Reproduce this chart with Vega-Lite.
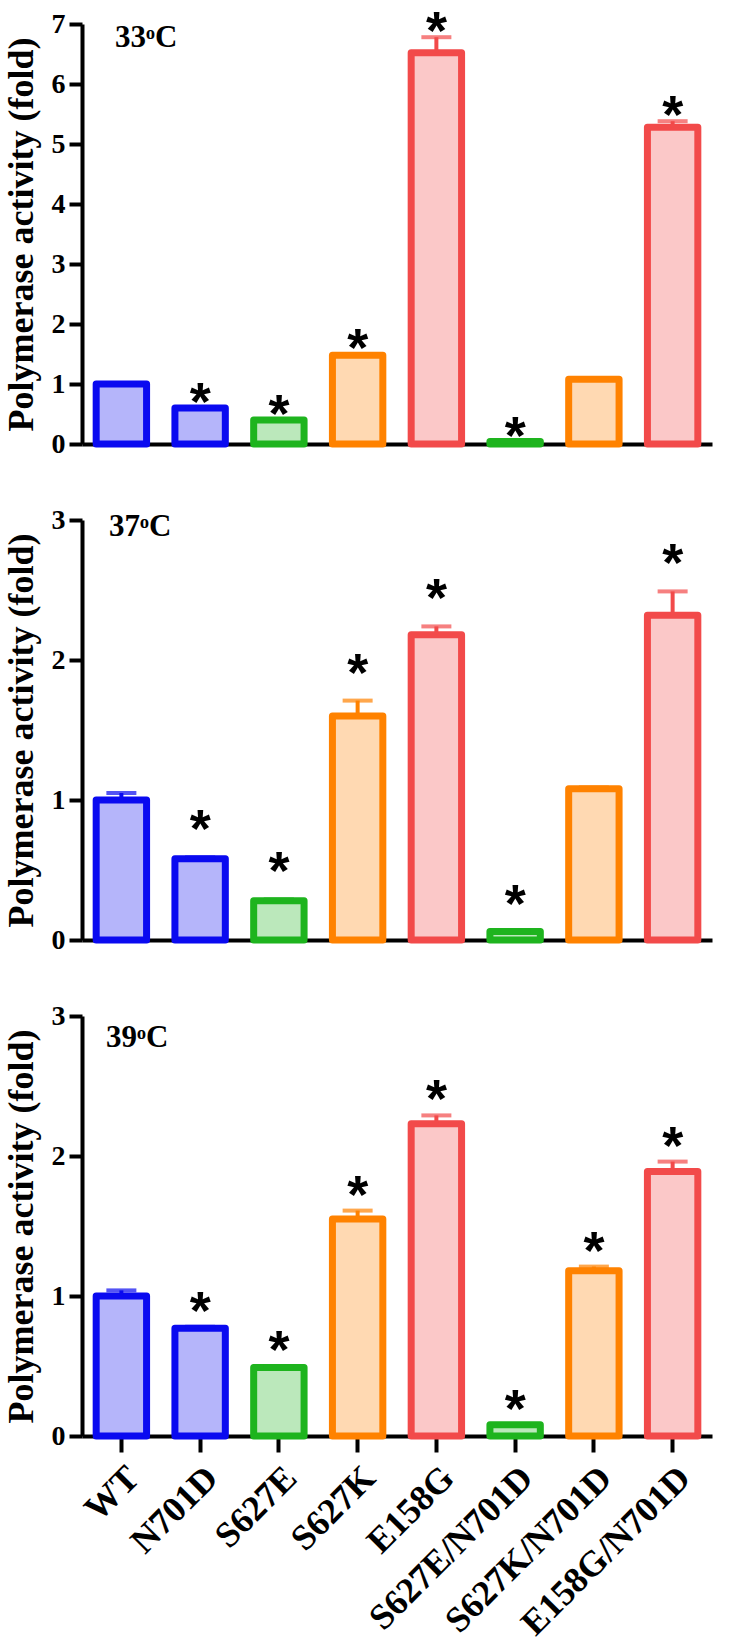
{
  "$schema": "https://vega.github.io/schema/vega-lite/v6.json",
  "background": "white",
  "padding": {"top": 6, "left": 3, "right": 5, "bottom": 3},
  "bounds": "flush",
  "spacing": 76,
  "datasets": {
    "d": [
      {"panel": "33", "mutant": "WT", "value": 1.0, "hi": 1.0, "sig": false},
      {"panel": "33", "mutant": "N701D", "value": 0.6, "hi": 0.6, "sig": true},
      {"panel": "33", "mutant": "S627E", "value": 0.4, "hi": 0.4, "sig": true},
      {"panel": "33", "mutant": "S627K", "value": 1.48, "hi": 1.5, "sig": true},
      {"panel": "33", "mutant": "E158G", "value": 6.52, "hi": 6.78, "sig": true},
      {"panel": "33", "mutant": "S627E/N701D", "value": 0.04, "hi": 0.04, "sig": true},
      {"panel": "33", "mutant": "S627K/N701D", "value": 1.08, "hi": 1.08, "sig": false},
      {"panel": "33", "mutant": "E158G/N701D", "value": 5.28, "hi": 5.38, "sig": true},
      {"panel": "37", "mutant": "WT", "value": 1.0, "hi": 1.05, "sig": false},
      {"panel": "37", "mutant": "N701D", "value": 0.58, "hi": 0.59, "sig": true},
      {"panel": "37", "mutant": "S627E", "value": 0.28, "hi": 0.29, "sig": true},
      {"panel": "37", "mutant": "S627K", "value": 1.6, "hi": 1.71, "sig": true},
      {"panel": "37", "mutant": "E158G", "value": 2.18, "hi": 2.24, "sig": true},
      {"panel": "37", "mutant": "S627E/N701D", "value": 0.06, "hi": 0.06, "sig": true},
      {"panel": "37", "mutant": "S627K/N701D", "value": 1.08, "hi": 1.09, "sig": false},
      {"panel": "37", "mutant": "E158G/N701D", "value": 2.32, "hi": 2.49, "sig": true},
      {"panel": "39", "mutant": "WT", "value": 1.0, "hi": 1.04, "sig": false},
      {"panel": "39", "mutant": "N701D", "value": 0.77, "hi": 0.78, "sig": true},
      {"panel": "39", "mutant": "S627E", "value": 0.49, "hi": 0.5, "sig": true},
      {"panel": "39", "mutant": "S627K", "value": 1.55, "hi": 1.61, "sig": true},
      {"panel": "39", "mutant": "E158G", "value": 2.23, "hi": 2.29, "sig": true},
      {"panel": "39", "mutant": "S627E/N701D", "value": 0.08, "hi": 0.08, "sig": true},
      {"panel": "39", "mutant": "S627K/N701D", "value": 1.18, "hi": 1.21, "sig": true},
      {"panel": "39", "mutant": "E158G/N701D", "value": 1.89, "hi": 1.96, "sig": true}
    ]
  },
  "config": {
    "view": {"stroke": null},
    "axis": {
      "grid": false,
      "domainColor": "black",
      "domainWidth": 4,
      "tickColor": "black",
      "tickWidth": 4,
      "labelColor": "black",
      "labelFont": "Liberation Serif",
      "labelFontWeight": "bold",
      "labelFontSize": 28,
      "labelLimit": 500,
      "titleColor": "black",
      "titleFont": "Liberation Serif",
      "titleFontWeight": "bold",
      "titleFontSize": 36
    }
  },
  "vconcat": [
    {
      "width": 630,
      "height": 420,
      "data": {"name": "d"},
      "transform": [{"filter": "datum.panel == '33'"}],
      "title": {"text": "33ᵒC", "anchor": "start", "frame": "group", "offset": -48, "dx": 33, "font": "Liberation Serif", "fontWeight": "bold", "fontSize": 31, "color": "black"},
      "encoding": {
        "x": {"field": "mutant", "type": "nominal", "sort": ["WT", "N701D", "S627E", "S627K", "E158G", "S627E/N701D", "S627K/N701D", "E158G/N701D"],
              "scale": {"paddingInner": 0.36, "paddingOuter": 0.18},
              "axis": {"title": null, "labels": false, "ticks": false}},
        "color": {"field": "mutant", "type": "nominal", "legend": null,
                  "scale": {"domain": ["WT", "N701D", "S627E", "S627K", "E158G", "S627E/N701D", "S627K/N701D", "E158G/N701D"],
                            "range": ["#0a0af0", "#0a0af0", "#1eb41e", "#ff8200", "#f24a4a", "#1eb41e", "#ff8200", "#f24a4a"]}}
      },
      "layer": [
        {"mark": {"type": "bar", "strokeWidth": 7, "fillOpacity": 0.3, "strokeJoin": "round"},
         "encoding": {
           "y": {"field": "value", "type": "quantitative", "title": "Polymerase activity (fold)",
                 "scale": {"domain": [0, 7], "nice": false},
                 "axis": {"values": [0, 1, 2, 3, 4, 5, 6, 7], "format": "d", "tickSize": 13, "labelPadding": 4, "titlePadding": 11}},
           "stroke": {"field": "mutant", "type": "nominal", "legend": null,
                      "scale": {"domain": ["WT", "N701D", "S627E", "S627K", "E158G", "S627E/N701D", "S627K/N701D", "E158G/N701D"],
                                "range": ["#0a0af0", "#0a0af0", "#1eb41e", "#ff8200", "#f24a4a", "#1eb41e", "#ff8200", "#f24a4a"]}}
         }},
        {"mark": {"type": "rule", "strokeWidth": 4},
         "encoding": {"y": {"field": "value", "type": "quantitative", "title": "Polymerase activity (fold)"}, "y2": {"field": "hi"}}},
        {"mark": {"type": "tick", "orient": "horizontal", "size": 30, "thickness": 4},
         "encoding": {"y": {"field": "hi", "type": "quantitative", "title": "Polymerase activity (fold)"}}},
        {"transform": [{"filter": "datum.sig"}],
         "mark": {"type": "text", "text": "*", "font": "Liberation Sans", "fontWeight": "bold", "fontSize": 54, "baseline": "alphabetic", "dy": 12},
         "encoding": {"y": {"field": "hi", "type": "quantitative", "title": "Polymerase activity (fold)"}, "color": {"value": "black"}}}
      ]
    },
    {
      "width": 630,
      "height": 420,
      "data": {"name": "d"},
      "transform": [{"filter": "datum.panel == '37'"}],
      "title": {"text": "37ᵒC", "anchor": "start", "frame": "group", "offset": -37, "dx": 27, "font": "Liberation Serif", "fontWeight": "bold", "fontSize": 31, "color": "black"},
      "encoding": {
        "x": {"field": "mutant", "type": "nominal", "sort": ["WT", "N701D", "S627E", "S627K", "E158G", "S627E/N701D", "S627K/N701D", "E158G/N701D"],
              "scale": {"paddingInner": 0.36, "paddingOuter": 0.18},
              "axis": {"title": null, "labels": false, "ticks": false}},
        "color": {"field": "mutant", "type": "nominal", "legend": null,
                  "scale": {"domain": ["WT", "N701D", "S627E", "S627K", "E158G", "S627E/N701D", "S627K/N701D", "E158G/N701D"],
                            "range": ["#0a0af0", "#0a0af0", "#1eb41e", "#ff8200", "#f24a4a", "#1eb41e", "#ff8200", "#f24a4a"]}}
      },
      "layer": [
        {"mark": {"type": "bar", "strokeWidth": 7, "fillOpacity": 0.3, "strokeJoin": "round"},
         "encoding": {
           "y": {"field": "value", "type": "quantitative", "title": "Polymerase activity (fold)",
                 "scale": {"domain": [0, 3], "nice": false},
                 "axis": {"values": [0, 1, 2, 3], "format": "d", "tickSize": 13, "labelPadding": 4, "titlePadding": 11}},
           "stroke": {"field": "mutant", "type": "nominal", "legend": null,
                      "scale": {"domain": ["WT", "N701D", "S627E", "S627K", "E158G", "S627E/N701D", "S627K/N701D", "E158G/N701D"],
                                "range": ["#0a0af0", "#0a0af0", "#1eb41e", "#ff8200", "#f24a4a", "#1eb41e", "#ff8200", "#f24a4a"]}}
         }},
        {"mark": {"type": "rule", "strokeWidth": 4},
         "encoding": {"y": {"field": "value", "type": "quantitative", "title": "Polymerase activity (fold)"}, "y2": {"field": "hi"}}},
        {"mark": {"type": "tick", "orient": "horizontal", "size": 30, "thickness": 4},
         "encoding": {"y": {"field": "hi", "type": "quantitative", "title": "Polymerase activity (fold)"}}},
        {"transform": [{"filter": "datum.sig"}],
         "mark": {"type": "text", "text": "*", "font": "Liberation Sans", "fontWeight": "bold", "fontSize": 54, "baseline": "alphabetic", "dy": -10},
         "encoding": {"y": {"field": "hi", "type": "quantitative", "title": "Polymerase activity (fold)"}, "color": {"value": "black"}}}
      ]
    },
    {
      "width": 630,
      "height": 420,
      "data": {"name": "d"},
      "transform": [{"filter": "datum.panel == '39'"}],
      "title": {"text": "39ᵒC", "anchor": "start", "frame": "group", "offset": -52, "dx": 24, "font": "Liberation Serif", "fontWeight": "bold", "fontSize": 31, "color": "black"},
      "encoding": {
        "x": {"field": "mutant", "type": "nominal", "sort": ["WT", "N701D", "S627E", "S627K", "E158G", "S627E/N701D", "S627K/N701D", "E158G/N701D"],
              "scale": {"paddingInner": 0.36, "paddingOuter": 0.18},
              "axis": {"title": null, "labelAngle": -45, "tickSize": 16, "labelPadding": 8, "labelFontSize": 36}},
        "color": {"field": "mutant", "type": "nominal", "legend": null,
                  "scale": {"domain": ["WT", "N701D", "S627E", "S627K", "E158G", "S627E/N701D", "S627K/N701D", "E158G/N701D"],
                            "range": ["#0a0af0", "#0a0af0", "#1eb41e", "#ff8200", "#f24a4a", "#1eb41e", "#ff8200", "#f24a4a"]}}
      },
      "layer": [
        {"mark": {"type": "bar", "strokeWidth": 7, "fillOpacity": 0.3, "strokeJoin": "round"},
         "encoding": {
           "y": {"field": "value", "type": "quantitative", "title": "Polymerase activity (fold)",
                 "scale": {"domain": [0, 3], "nice": false},
                 "axis": {"values": [0, 1, 2, 3], "format": "d", "tickSize": 13, "labelPadding": 4, "titlePadding": 11}},
           "stroke": {"field": "mutant", "type": "nominal", "legend": null,
                      "scale": {"domain": ["WT", "N701D", "S627E", "S627K", "E158G", "S627E/N701D", "S627K/N701D", "E158G/N701D"],
                                "range": ["#0a0af0", "#0a0af0", "#1eb41e", "#ff8200", "#f24a4a", "#1eb41e", "#ff8200", "#f24a4a"]}}
         }},
        {"mark": {"type": "rule", "strokeWidth": 4},
         "encoding": {"y": {"field": "value", "type": "quantitative", "title": "Polymerase activity (fold)"}, "y2": {"field": "hi"}}},
        {"mark": {"type": "tick", "orient": "horizontal", "size": 30, "thickness": 4},
         "encoding": {"y": {"field": "hi", "type": "quantitative", "title": "Polymerase activity (fold)"}}},
        {"transform": [{"filter": "datum.sig"}],
         "mark": {"type": "text", "text": "*", "font": "Liberation Sans", "fontWeight": "bold", "fontSize": 54, "baseline": "alphabetic", "dy": 2},
         "encoding": {"y": {"field": "hi", "type": "quantitative", "title": "Polymerase activity (fold)"}, "color": {"value": "black"}}}
      ]
    }
  ]
}
